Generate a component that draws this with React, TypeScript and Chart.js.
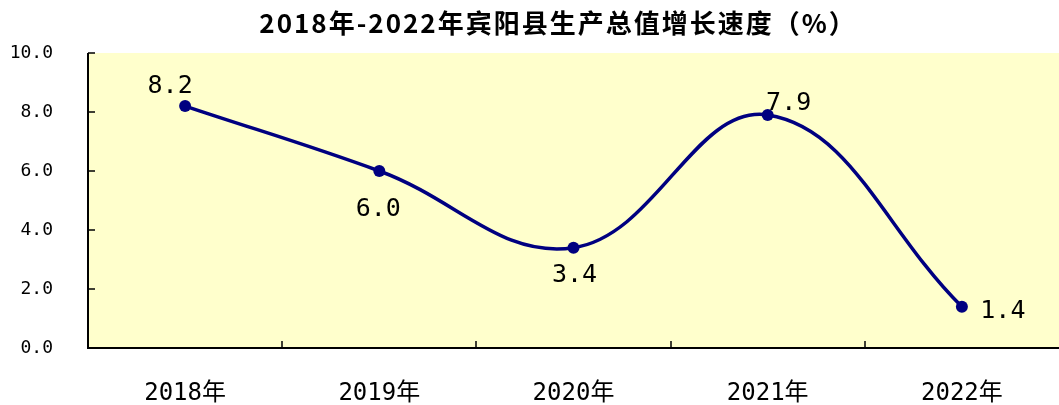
import React, { useEffect, useRef } from "react";
import { Chart, registerables } from "chart.js";

Chart.register(...registerables);

const titleText = "2018年-2022年宾阳县生产总值增长速度（%）";
const categories = ["2018年", "2019年", "2020年", "2021年", "2022年"];
const growth = [8.2, 6.0, 3.4, 7.9, 1.4];
const yMin = 0;
const yMax = 10;
const yStep = 2;

// label placement relative to each point (dx, dy in px)
const labelOffsets: [number, number][] = [
  [-15, -20],
  [-1, 38],
  [1, 28],
  [21, -11],
  [41, 5],
];

const LINE_COLOR = "#000080";
const PLOT_BG = "#FFFFCC";
const MONO = '"DejaVu Sans Mono", "Noto Sans CJK SC", monospace';

const decorPlugin = {
  id: "decor",
  beforeDraw(chart: any) {
    const { ctx, chartArea: a } = chart;
    ctx.save();
    ctx.fillStyle = PLOT_BG;
    ctx.fillRect(a.left, a.top, a.right - a.left, a.bottom - a.top);
    // title
    ctx.fillStyle = "#000";
    ctx.font = 'bold 26px "Noto Sans CJK SC"';
    (ctx as any).letterSpacing = "2px";
    ctx.textAlign = "center";
    ctx.textBaseline = "middle";
    ctx.fillText(titleText, 558, 23);
    ctx.restore();
  },
  beforeDatasetsDraw(chart: any) {
    const { ctx, chartArea: a, scales } = chart;
    const x = scales.x;
    const y = scales.y;
    ctx.save();
    ctx.strokeStyle = "#000";
    ctx.lineWidth = 2;
    ctx.beginPath();
    ctx.moveTo(a.left, a.top);
    ctx.lineTo(a.left, a.bottom);
    ctx.lineTo(a.right, a.bottom);
    ctx.stroke();
    ctx.lineWidth = 1.5;
    ctx.beginPath();
    y.ticks.forEach((_t: any, i: number) => {
      const py = Math.round(y.getPixelForTick(i));
      ctx.moveTo(a.left, py);
      ctx.lineTo(a.left + 7, py);
    });
    for (let i = 1; i < categories.length; i++) {
      const px = Math.round((x.getPixelForValue(i - 1) + x.getPixelForValue(i)) / 2);
      ctx.moveTo(px, a.bottom);
      ctx.lineTo(px, a.bottom - 7);
    }
    ctx.stroke();
    ctx.restore();
  },
  afterDatasetsDraw(chart: any) {
    const { ctx } = chart;
    const meta = chart.getDatasetMeta(0);
    ctx.save();
    ctx.fillStyle = "#000";
    ctx.font = `25px ${MONO}`;
    ctx.textAlign = "center";
    ctx.textBaseline = "middle";
    meta.data.forEach((el: any, i: number) => {
      const [dx, dy] = labelOffsets[i];
      ctx.fillText(growth[i].toFixed(1), el.x + dx, el.y + dy);
    });
    ctx.restore();
  },
};

export default function App() {
  const ref = useRef<HTMLCanvasElement>(null);
  useEffect(() => {
    if (!ref.current) return;
    const chart = new Chart(ref.current, {
      type: "line",
      data: {
        labels: categories,
        datasets: [
          {
            data: growth,
            borderColor: LINE_COLOR,
            backgroundColor: LINE_COLOR,
            borderWidth: 3.5,
            tension: 0.4,
            pointRadius: 6,
            pointBackgroundColor: LINE_COLOR,
            pointBorderColor: LINE_COLOR,
            pointBorderWidth: 0,
            fill: false,
          },
        ],
      },
      options: {
        animation: false,
        responsive: false,
        layout: { autoPadding: false, padding: { left: 0, right: 0, top: 53, bottom: 0 } },
        plugins: {
          legend: { display: false },
          tooltip: { enabled: false },
          title: { display: false },
        },
        scales: {
          x: {
            type: "category",
            offset: true,
            grid: { display: false, drawTicks: false },
            border: { display: false },
            ticks: {
              color: "#000",
              font: { family: MONO, size: 24 },
              padding: 31,
              maxRotation: 0,
            },
            afterFit(scale: any) {
              scale.height = 57;
              scale.paddingLeft = 0;
              scale.paddingRight = 0;
            },
          },
          y: {
            min: yMin,
            max: yMax,
            grid: { display: false, drawTicks: false },
            border: { display: false },
            ticks: {
              stepSize: yStep,
              color: "#000",
              font: { family: MONO, size: 18 },
              padding: 35,
              callback: (v: any) => Number(v).toFixed(1),
            },
            afterFit(scale: any) {
              scale.width = 88;
            },
          },
        },
      },
      plugins: [decorPlugin],
    });
    return () => chart.destroy();
  }, []);
  return (
    <div style={{ position: "fixed", left: 0, top: 0, width: 1059, height: 405, background: "#fff" }}>
      <canvas ref={ref} width={1059} height={405} />
    </div>
  );
}
